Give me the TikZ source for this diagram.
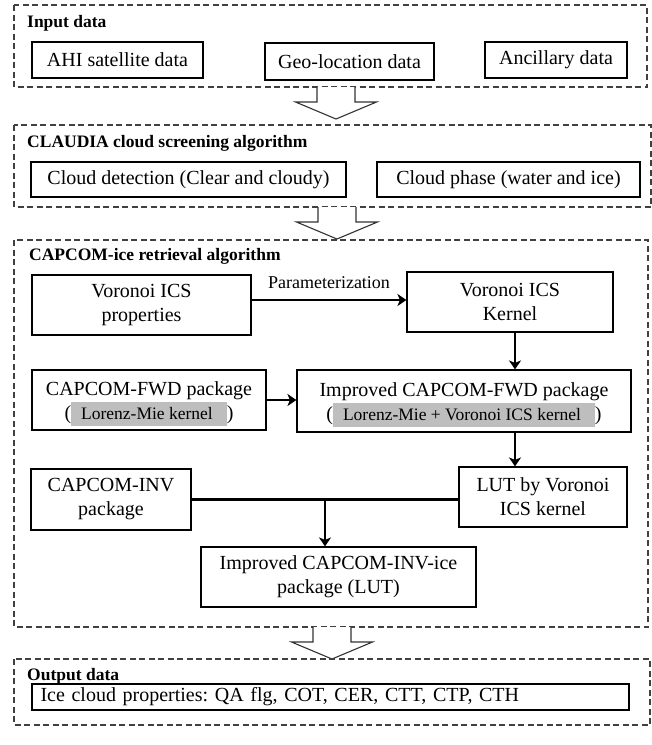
\documentclass[tikz,border=0pt]{standalone}
\usepackage{fontspec}
\setmainfont{Liberation Serif}
\usetikzlibrary{arrows.meta}
\definecolor{hlgray}{RGB}{190,190,190}
\newcommand{\hl}[1]{{\setlength{\fboxsep}{6pt}\colorbox{hlgray}{\fontsize{17.5}{20}\selectfont\hspace{4pt}#1\hspace{8pt}}}}
\newcommand{\blockarrow}[1]{\draw[bigarrow] (#1) ++(-19,0) -- ++(0,15) -- ++(-21.5,0) -- ++(40.5,17) -- ++(40.5,-17) -- ++(-21.5,0) -- ++(0,-15);}
\tikzset{
frame/.style={draw=black!75,line width=1.1pt,dash pattern=on 6pt off 3.5pt},
box/.style={draw,line width=1.1pt,align=center,inner sep=2pt,font=\fontsize{20}{24}\selectfont},
title/.style={anchor=base west,inner sep=0pt,font=\fontsize{17.5}{20}\selectfont\bfseries},
link/.style={line width=2.2pt,-{Stealth[length=9pt,width=12pt,inset=2.5pt]}},
bigarrow/.style={draw=black!80,line width=1.1pt,fill=white,line join=miter}
}
\begin{document}
\frenchspacing
\begin{tikzpicture}[x=1pt,y=-1pt]
\useasboundingbox (0,0) rectangle (652,745);
\draw[frame] (14,5) rectangle (647,87);
\node[title] (tin) at (27,27) {Input data};
\node[box,minimum width=171,minimum height=36] (ahi) at (117.5,60) {AHI satellite data};
\node[box,minimum width=169,minimum height=37] (geo) at (349.5,61.5) {Geo-location data};
\node[box,minimum width=142,minimum height=36] (anc) at (556,60) {Ancillary data};
\coordinate (a1) at (336,87);
\blockarrow{a1}
\draw[frame] (14,125) rectangle (651,207);
\node[title] (tcl) at (27,147) {CLAUDIA cloud screening algorithm};
\node[box,minimum width=315,minimum height=35] (cdet) at (188.5,179.5) {Cloud detection (Clear and cloudy)};
\node[box,minimum width=263,minimum height=35] (cpha) at (508.5,179.5) {Cloud phase (water and ice)};
\coordinate (a2) at (337,207);
\blockarrow{a2}
\draw[frame] (14,240) rectangle (648,627);
\node[title] (tcap) at (29,260) {CAPCOM-ice retrieval algorithm};
\node[box,minimum width=219,minimum height=60] (props) at (141.5,305) {Voronoi ICS\\properties};
\node[box,minimum width=206,minimum height=60] (kernel) at (510,302) {Voronoi ICS\\Kernel};
\node[box,minimum width=234,minimum height=60] (fwd) at (149,400) {\rule{0pt}{22pt}CAPCOM-FWD package\\(\hl{Lorenz-Mie kernel})};
\node[box,minimum width=334,minimum height=62] (ifwd) at (464,401) {\rule{0pt}{22pt}Improved CAPCOM-FWD package\\(\hl{Lorenz-Mie + Voronoi ICS kernel})};
\node[box,minimum width=160,minimum height=61] (inv) at (111,499.5) {CAPCOM-INV\\package};
\node[box,minimum width=168,minimum height=60] (lut) at (543,497) {LUT by Voronoi\\ICS kernel};
\node[box,minimum width=275,minimum height=60] (iinv) at (338.5,577) {Improved CAPCOM-INV-ice\\package (LUT)};
\coordinate (vx) at (515,0);
\coordinate (jn) at (325,0);
\draw[link] ([yshift=5pt]props.east) -- ([yshift=5pt]props.east -| kernel.west) node[midway,above=10pt,inner sep=0pt,font=\fontsize{18}{20}\selectfont] {Parameterization};
\draw[link] (kernel.south -| vx) -- (ifwd.north -| vx);
\draw[link] (fwd.east) -- (fwd.east -| ifwd.west);
\draw[link] (ifwd.south -| vx) -- (lut.north -| vx);
\draw[line width=2.2pt] (inv.east) -- (inv.east -| lut.west);
\draw[link] (inv.east -| jn) -- (iinv.north -| jn);
\coordinate (a3) at (332,627);
\blockarrow{a3}
\draw[frame] (14,659) rectangle (650,725);
\node[title] (tout) at (27,680) {Output data};
\node[box,minimum width=597,minimum height=26,align=left,text width=580] (ice) at (330.5,697) {Ice cloud properties: QA flg, COT, CER, CTT, CTP, CTH};
\end{tikzpicture}
\end{document}
